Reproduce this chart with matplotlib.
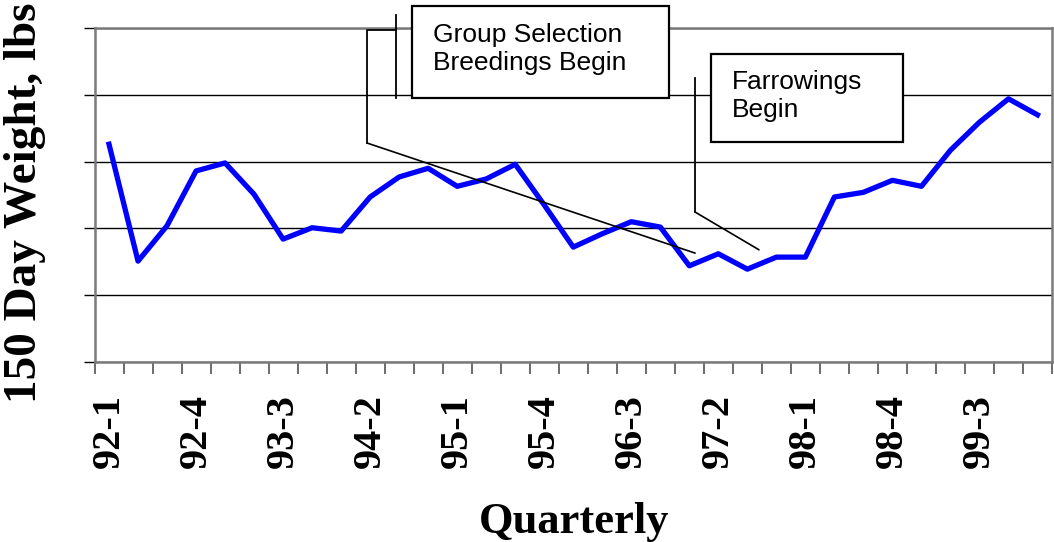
import numpy as np
import matplotlib.pyplot as plt
from matplotlib.patches import Rectangle
from matplotlib.lines import Line2D

# 季度類別
quarters = ["92-1", "92-2", "92-3", "92-4", "93-1", "93-2", "93-3", "93-4",
            "94-1", "94-2", "94-3", "94-4", "95-1", "95-2", "95-3", "95-4",
            "96-1", "96-2", "96-3", "96-4", "97-1", "97-2", "97-3", "97-4",
            "98-1", "98-2", "98-3", "98-4", "99-1", "99-2", "99-3", "99-4",
            "00-1"]

# 150 日齡體重 (由圖讀取, lbs)
weight = [232.6, 215.1, 220.4, 228.6, 229.8, 225.1, 218.4, 220.1, 219.6,
          224.7, 227.7, 229.0, 226.3, 227.4, 229.6, 223.5, 217.2, 219.2,
          221.0, 220.2, 214.4, 216.2, 213.9, 215.7, 215.7, 224.7, 225.4,
          227.2, 226.3, 231.7, 235.9, 239.4, 237.0]

y_ticks = [200, 210, 220, 230, 240, 250]

W, H = 1054, 542


def px(x, y):
    # 像素位置 -> figure fraction
    return (x / W, 1 - y / H)


fig = plt.figure(figsize=(W / 100, H / 100), dpi=100)
ax = fig.add_axes([94.5 / W, 1 - 362 / H, (1052 - 94.5) / W, (362 - 28) / H])

x = np.arange(len(quarters))
ax.plot(x, weight, color="#0000FF", lw=3.8, zorder=3)

ax.set_xlim(-0.5, len(quarters) - 0.5)
ax.set_ylim(y_ticks[0], y_ticks[-1])
ax.set_yticks(y_ticks)
ax.set_yticklabels([])
ax.yaxis.grid(True, color="black", lw=1)
ax.set_axisbelow(True)
ax.tick_params(axis="y", direction="out", length=8, width=1, color="black")

ax.set_xticks(x[::3])
ax.set_xticklabels(quarters[::3], rotation=90, fontfamily="Liberation Serif",
                   fontweight="bold", fontsize=29, va="top")
ax.tick_params(axis="x", which="major", length=0, pad=23)
ax.set_xticks(np.arange(-0.5, len(quarters)), minor=True)
ax.tick_params(axis="x", which="minor", direction="out", length=8.5,
               width=1.3, color="#606060")

for s in ax.spines.values():
    s.set_color("#7a7a7a")
    s.set_linewidth(1.8)

# 標註框
box_style = dict(transform=fig.transFigure, fc="white", ec="black", lw=1.6, zorder=5)
fig.add_artist(Rectangle(px(412, 98), 257 / W, 92 / H, **box_style))
fig.add_artist(Rectangle(px(711, 142), 192 / W, 88 / H, **box_style))

txt_style = dict(family="Liberation Sans", size=19, ha="left", va="top",
                 linespacing=1.22, zorder=6)
fig.text(433 / W, 1 - 23 / H, "Group Selection\nBreedings Begin", **txt_style)
fig.text(732 / W, 1 - 70 / H, "Farrowings\nBegin", **txt_style)

line_style = dict(transform=fig.transFigure, color="black", lw=1.3, zorder=6)
fig.add_artist(Line2D([396 / W, 396 / W], [1 - 15 / H, 1 - 98 / H], **line_style))
fig.add_artist(Line2D([396 / W, 367 / W, 367 / W],
                      [1 - 30 / H, 1 - 30 / H, 1 - 143 / H], **line_style))
fig.add_artist(Line2D([695 / W, 695 / W], [1 - 78 / H, 1 - 212 / H], **line_style))

arrow = dict(arrowstyle="-", color="black", lw=1.2, shrinkA=0, shrinkB=0)
ax.annotate("", xy=(20.2, 216.3), xycoords="data", xytext=px(367, 143),
            textcoords="figure fraction", arrowprops=arrow, zorder=4)
ax.annotate("", xy=(22.4, 216.8), xycoords="data", xytext=px(695, 212),
            textcoords="figure fraction", arrowprops=arrow, zorder=4)

fig.text(25 / W, 1 - 203 / H, "150 Day Weight, lbs", rotation=90,
         ha="center", va="center", family="Liberation Serif",
         weight="bold", size=34)
fig.text(574 / W, 1 - 533 / H, "Quarterly", ha="center", va="baseline",
         family="Liberation Serif", weight="bold", size=32)

fig.savefig("out.png", dpi=100)
